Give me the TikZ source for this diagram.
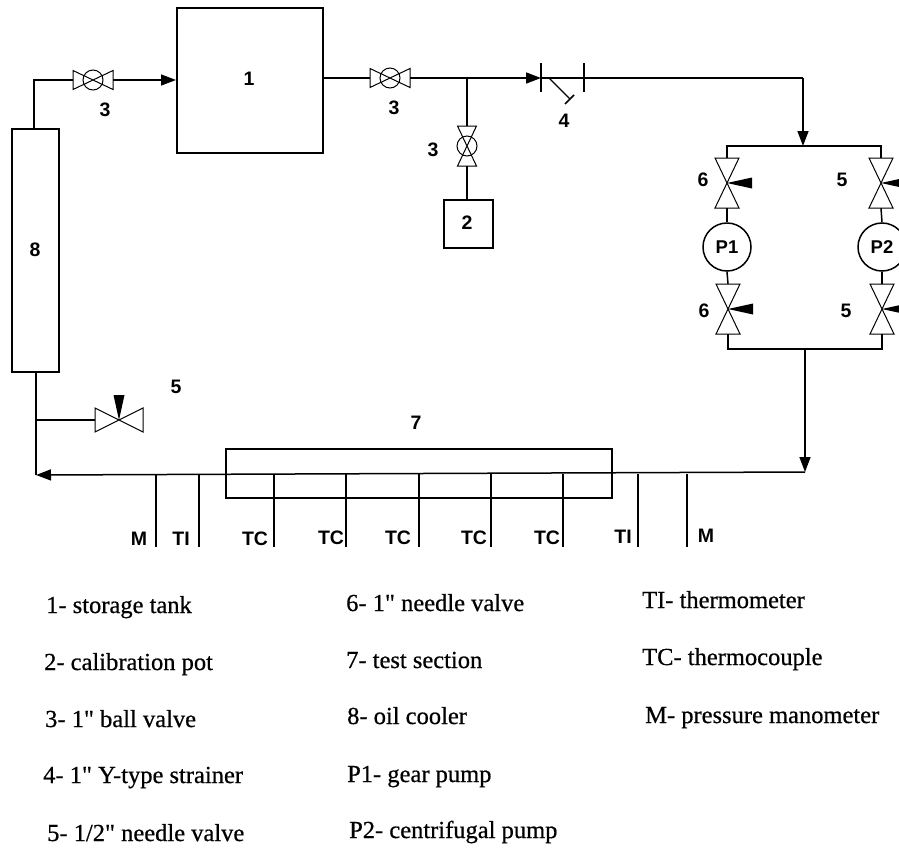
\documentclass[tikz,border=0pt]{standalone}
\usepackage{fontspec}
\setmainfont{Liberation Serif}
\newfontfamily\labfont{Liberation Sans}
\newfontfamily\legfont{Liberation Serif}[Ligatures=TeXOff,FakeBold=0.6]
\usetikzlibrary{arrows.meta}
\tikzset{
  x=1pt,y=-1pt,
  pipe/.style={line width=1.5pt,line join=miter},
  thin pipe/.style={line width=1.3pt},
  flow/.style={pipe,-{Triangle[length=15pt,width=11pt]}},
  vessel/.style={draw,line width=1.5pt,inner sep=0pt,anchor=north west},
  tag/.style={font=\labfont\bfseries\fontsize{19.5}{19.5}\selectfont,inner sep=0pt,text=black},
  legend/.style={font=\legfont\fontsize{24.5}{24.5}\selectfont,inner sep=0pt,anchor=base west,text=black},
  vh/.style={inner sep=0pt,minimum width=40pt,minimum height=18pt},
  vv/.style={inner sep=0pt,minimum width=18pt,minimum height=40pt},
  nv/.style={inner sep=0pt,minimum width=24pt,minimum height=50pt},
  nh/.style={inner sep=0pt,minimum width=48pt,minimum height=24pt},
  pump/.style={circle,draw,line width=1.5pt,minimum size=48pt,inner sep=0pt,font=\labfont\bfseries\fontsize{18.5}{18.5}\selectfont},
  ball/.pic={
    \draw[line width=1pt] (-20,-9.5) -- (20,9.5) -- (20,-9.5) -- (-20,9.5) -- cycle;
    \draw[line width=1pt,fill=white] (0,0) circle (10);
    \draw[line width=1pt] (-9,-4.3) -- (9,4.3) (-9,4.3) -- (9,-4.3);
  },
  ballv/.pic={
    \draw[line width=1pt] (-9.5,-20) -- (9.5,20) -- (-9.5,20) -- (9.5,-20) -- cycle;
    \draw[line width=1pt,fill=white] (0,0) circle (10);
    \draw[line width=1pt] (-4.3,-9) -- (4.3,9) (4.3,-9) -- (-4.3,9);
  },
  needlev/.pic={
    \draw[line width=1pt] (-12,-25) -- (12,25) -- (-12,25) -- (12,-25) -- cycle;
    \fill (0,0) -- (25,-5.5) -- (25,5.5) -- cycle;
  },
  needleh/.pic={
    \draw[line width=1pt] (-24,-12) -- (24,12) -- (24,-12) -- (-24,12) -- cycle;
    \fill (0,0) -- (-5.5,-25) -- (5.5,-25) -- cycle;
  },
}
\begin{document}
\begin{tikzpicture}
\useasboundingbox (0,0) rectangle (899,847);

% vessels
\node[vessel,minimum width=146pt,minimum height=145pt] (tank) at (176,7) {};
\node[tag] at (249,79) {1};
\node[vessel,minimum width=49pt,minimum height=48pt] (pot) at (443,199) {};
\node[tag] at (467,223) {2};
\node[vessel,minimum width=47pt,minimum height=243pt] (cooler) at (11,128) {};
\node[tag] at (35,250) {8};
\node[vessel,minimum width=386pt,minimum height=49pt] (test) at (225,448) {};
\node[tag] at (416,423) {7};

% valves
\node[vh] (v1) at (93,80) {};  \pic at (v1) {ball};
\node[vh] (v2) at (390,78) {}; \pic at (v2) {ball};
\node[vv] (v3) at (467,146) {}; \pic at (v3) {ballv};
\node[nv] (n1) at (727,183) {}; \pic at (n1) {needlev};
\node[nv] (n2) at (728,309) {}; \pic at (n2) {needlev};
\node[nv] (n3) at (881,183) {}; \pic at (n3) {needlev};
\node[nv] (n4) at (882,309) {}; \pic at (n4) {needlev};
\node[nh] (n5) at (119,420) {}; \pic at (n5) {needleh};
\node[pump] (p1) at (727,247) {P1};
\node[pump] (p2) at (882,247) {P2};

% junctions and ends
\coordinate (ctop) at (34,128);
\coordinate (c1) at (34,80);
\coordinate (t2) at (322,78);
\coordinate (j1) at (467,78);
\coordinate (s1) at (541,78);
\coordinate (s2) at (584,78);
\coordinate (j2) at (803,78);
\coordinate (rt) at (803,146);
\coordinate (rtr) at (881,146);
\coordinate (rbr) at (882,349);
\coordinate (rb) at (805,349);
\coordinate (rm) at (805,472);
\coordinate (cb) at (36,371);
\coordinate (cj) at (36,420);
\coordinate (ce) at (36,475);

% pipes
\draw[pipe] (ctop) -- (c1) -- (v1.west);
\draw[flow] (v1.east) -- (tank.west |- v1.east);
\draw[pipe] (t2) -- (v2.west);
\draw[flow] (v2.east) -- (s1);
\draw[pipe] (s1) -- (s2) -- (j2);
\draw[flow] (j2) -- (rt);
\draw[pipe] (j1) -- (v3.north);
\draw[pipe] (v3.south) -- (pot.north -| v3.south);
\draw[pipe] (n1.north) |- (rtr) -- (n3.north);
\draw[pipe] (n1.south) -- (p1.north);
\draw[pipe] (p1.south) -- (n2.north);
\draw[pipe] (n2.south) |- (rbr) -- (n4.south);
\draw[pipe] (n3.south) -- (p2.north);
\draw[pipe] (p2.south) -- (n4.north);
\draw[flow] (rb) -- (rm);
\draw[flow] (rm) -- (ce);
\draw[pipe] (cb) -- (ce);
\draw[thin pipe] (cj) -- (n5.west);

% strainer
\coordinate (s1a) at (541,63); \coordinate (s1b) at (541,92);
\coordinate (s2a) at (584,63); \coordinate (s2b) at (584,92);
\coordinate (ss) at (549,78); \coordinate (se) at (570,99);
\coordinate (sc1) at (565,104); \coordinate (sc2) at (574,95);
\draw[pipe] (s1a) -- (s1b);
\draw[pipe] (s2a) -- (s2b);
\draw[thin pipe] (ss) -- (se);
\draw[pipe] (sc1) -- (sc2);

% instrument taps
\foreach \n/\x in {a/156,b/199,c/274,d/346,e/419,f/491,g/563,h/638,i/687}{
  \coordinate (top\n) at (\x,474);
  \coordinate (bot\n) at (\x,547);
  \draw[pipe] (top\n) -- (bot\n);
}

% labels
\node[tag] at (105,110) {3};
\node[tag] at (394,108) {3};
\node[tag] at (433,150) {3};
\node[tag] at (564,121) {4};
\node[tag] at (703,180) {6};
\node[tag] at (704,311) {6};
\node[tag] at (842,180) {5};
\node[tag] at (846,311) {5};
\node[tag] at (176,387) {5};
\node[tag] at (139,539) {M};
\node[tag] at (181,539) {TI};
\node[tag] at (255,539) {TC};
\node[tag] at (331,538) {TC};
\node[tag] at (398,538) {TC};
\node[tag] at (474,538) {TC};
\node[tag] at (547,538) {TC};
\node[tag] at (623,537) {TI};
\node[tag] at (706,536) {M};

% legend
\node[legend] at (46,613) {1- storage tank};
\node[legend] at (44,670) {2- calibration pot};
\node[legend] at (45,727) {3- 1" ball valve};
\node[legend] at (43,783) {4- 1" Y-type strainer};
\node[legend] at (47,841) {5- 1/2" needle valve};
\node[legend] at (346,611) {6- 1" needle valve};
\node[legend] at (346,668) {7- test section};
\node[legend] at (347,724) {8- oil cooler};
\node[legend] at (347,782) {P1- gear pump};
\node[legend] at (349,838) {P2- centrifugal pump};
\node[legend] at (642,608) {TI- thermometer};
\node[legend] at (642,665) {TC- thermocouple};
\node[legend] at (645,723) {M- pressure manometer};
\end{tikzpicture}
\end{document}
